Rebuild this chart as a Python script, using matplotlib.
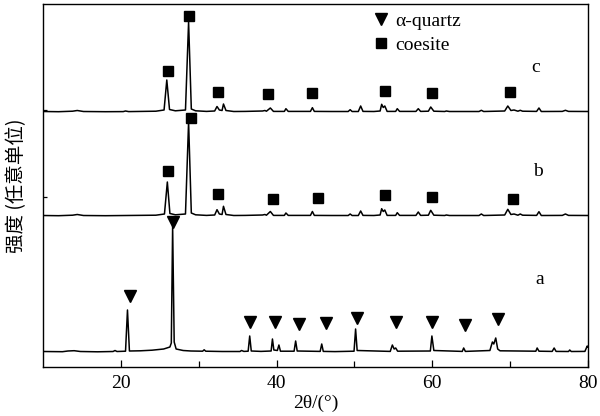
import matplotlib
matplotlib.use("Agg")
import matplotlib.pyplot as plt
import numpy as np

# XRD traces: 2theta (deg) and intensity above each baseline (a.u.)
a_2theta = [10, 12.5, 13.2, 14.0, 14.8, 17.0, 19.0, 19.25, 19.5, 20.6, 20.85, 21.1, 22.5, 24.0, 25.5,
            26.3, 26.48, 26.65, 26.85, 27.1, 28.0, 29.0, 30.5, 30.7, 30.9, 33.0, 35.3, 35.5, 35.8,
            36.35, 36.55, 36.75, 38.0, 39.3, 39.47, 39.65, 40.1, 40.3, 40.5, 42.25, 42.45, 42.65,
            45.6, 45.8, 46.0, 47.5, 49.95, 50.15, 50.35, 54.6, 54.87, 55.1, 55.3, 55.55,
            59.75, 59.95, 60.2, 63.85, 64.03, 64.25, 67.4, 67.72, 67.9, 68.15, 68.4, 68.7,
            73.3, 73.47, 73.7, 75.4, 75.65, 75.9, 77.5, 77.65, 77.85, 79.6, 79.9, 80.0]
a_int = [0.5, 0.3, 1.0, 1.3, 0.5, 0.2, 0.5, 1.5, 0.5, 0.8, 42, 1.0, 1.2, 1.8, 3.0,
         5.0, 9.0, 126, 10, 3.0, 1.5, 1.0, 0.8, 2.2, 0.8, 0.5, 0.5, 1.5, 0.6,
         0.8, 16, 1.0, 0.6, 1.0, 13, 2.0, 1.5, 7.0, 0.8, 0.8, 11, 1.0,
         0.6, 8.0, 0.6, 0.4, 0.8, 23, 1.5, 0.6, 7.0, 3.0, 4.0, 0.8,
         1.0, 16, 1.5, 0.6, 4.0, 0.6, 1.5, 10, 8.0, 14, 3.0, 1.2,
         0.8, 4.0, 0.8, 0.6, 4.0, 0.6, 0.5, 2.0, 0.5, 0.6, 6.0, 5.0]

b_2theta = [10, 12.0, 13.8, 14.4, 15.2, 18.0, 24.5, 25.6, 25.97, 26.3, 27.0, 28.3, 28.7, 29.05,
            29.6, 31.0, 32.05, 32.35, 32.65, 33.0, 33.18, 33.5, 34.5, 36.0, 38.2, 38.5, 38.7,
            39.2, 39.6, 41.0, 41.2, 41.5, 44.35, 44.6, 44.85, 47.0, 49.2, 49.45, 49.7, 50.5,
            50.8, 51.1, 52.5, 53.3, 53.5, 53.7, 53.9, 54.2, 55.3, 55.5, 55.8, 57.9, 58.2, 58.5,
            59.5, 59.8, 60.2, 61.6, 61.8, 62.2, 66.0, 66.3, 66.6, 69.3, 69.7, 70.1, 70.5, 71.0,
            71.3, 71.6, 73.4, 73.7, 74.0, 76.7, 77.1, 77.5, 80.0]
b_int = [0.5, 0.3, 0.8, 1.5, 0.5, 0.3, 0.8, 2.0, 34, 2.5, 1.2, 2.0, 94, 3.0,
         1.2, 0.6, 1.0, 6.3, 2.0, 1.5, 9.7, 1.5, 0.5, 0.6, 1.0, 1.5, 0.8,
         4.5, 0.6, 0.6, 3.0, 0.6, 0.6, 4.5, 0.6, 0.5, 0.5, 2.0, 0.5, 0.5,
         5.0, 0.6, 0.5, 1.0, 7.3, 4.5, 6.0, 0.6, 0.6, 3.3, 0.6, 0.6, 4.0, 0.6,
         0.8, 5.7, 0.8, 0.5, 1.0, 0.5, 0.5, 2.0, 0.5, 1.0, 6.7, 1.5, 2.0, 0.8,
         2.0, 0.8, 0.6, 4.3, 0.5, 0.6, 2.0, 0.6, 0.5]

c_2theta = [10, 12.0, 13.8, 14.4, 15.2, 18.0, 20.3, 20.6, 21.0, 24.5, 25.55, 25.9, 26.25, 27.0,
            28.3, 28.7, 29.05, 29.6, 31.0, 32.05, 32.35, 32.65, 33.0, 33.18, 33.5, 34.5, 36.0,
            38.2, 38.5, 38.7, 39.2, 39.6, 41.0, 41.2, 41.5, 44.35, 44.6, 44.85, 47.0, 49.2,
            49.45, 49.7, 50.5, 50.8, 51.1, 52.5, 53.3, 53.5, 53.7, 53.9, 54.2, 55.3, 55.5,
            55.8, 57.9, 58.2, 58.5, 59.5, 59.8, 60.2, 61.6, 61.8, 62.2, 66.0, 66.3, 66.6,
            69.3, 69.7, 70.1, 70.5, 71.0, 71.3, 71.6, 73.4, 73.7, 74.0, 76.7, 77.1, 77.5, 80.0]
c_int = [0.5, 0.3, 0.8, 1.5, 0.5, 0.3, 0.4, 1.0, 0.4, 0.8, 2.0, 32, 2.5, 1.2,
         2.0, 90, 3.0, 1.2, 0.6, 1.0, 5.5, 2.0, 1.5, 8.0, 1.5, 0.5, 0.6,
         1.0, 1.5, 0.8, 4.0, 0.6, 0.6, 3.3, 0.6, 0.6, 4.3, 0.6, 0.5, 0.5,
         2.3, 0.5, 0.5, 6.0, 0.6, 0.5, 1.0, 7.7, 4.5, 6.0, 0.6, 0.6, 3.3,
         0.6, 0.6, 3.3, 0.6, 0.8, 5.0, 0.8, 0.5, 1.0, 0.5, 0.5, 1.7, 0.5,
         1.0, 6.0, 1.5, 2.0, 0.8, 1.7, 0.8, 0.6, 4.0, 0.5, 0.6, 1.7, 0.6, 0.5]

# phase markers (2theta, height)
quartz_2theta = [21.2, 26.65, 36.6, 39.8, 42.9, 46.3, 50.3, 55.3, 60.0, 64.2, 68.5]
quartz_y = [71, 145, 45, 45, 43, 44, 49, 45, 45, 42, 48]
coesite_c_2theta = [26.1, 28.75, 32.5, 38.9, 44.5, 53.9, 59.96, 69.98]
coesite_c_y = [296, 351, 275, 273, 274, 276, 274, 275]
coesite_b_2theta = [26.1, 29.0, 32.5, 39.5, 45.3, 53.9, 60.0, 70.4]
coesite_b_y = [196, 249, 173, 168, 169, 172, 170, 168]

offsets = {"a": 15, "b": 151, "c": 255}

serif = "Liberation Serif"

fig = plt.figure(figsize=(6, 4.16), dpi=100)
ax = fig.add_axes([43 / 600, 49 / 416, 545 / 600, 363 / 416])

ax.plot(a_2theta, np.array(a_int) + offsets["a"], color="black", lw=1.1)
ax.plot(b_2theta, np.array(b_int) + offsets["b"], color="black", lw=1.1)
ax.plot(c_2theta, np.array(c_int) + offsets["c"], color="black", lw=1.1)

ax.plot(quartz_2theta, quartz_y, "v", color="black", ms=8.5, ls="none", label="α-quartz")
ax.plot(coesite_c_2theta, coesite_c_y, "s", color="black", ms=6.5, ls="none", label="coesite")
ax.plot(coesite_b_2theta, coesite_b_y, "s", color="black", ms=6.5, ls="none")

ax.text(73.3, 300, "c", fontsize=14, family=serif, ha="center", va="center")
ax.text(73.6, 195, "b", fontsize=14, family=serif, ha="center", va="center")
ax.text(73.8, 88, "a", fontsize=14, family=serif, ha="center", va="center")

ax.legend(loc="upper left", bbox_to_anchor=(0.585, 1.01), frameon=False,
          handlelength=0.8, handletextpad=0.3, labelspacing=0.35, borderaxespad=0.2,
          prop={"family": serif, "size": 14})

ax.set_xlim(10, 80)
ax.set_ylim(0, 363)
ax.set_xticks([20, 40, 60, 80])
ax.set_xticks([30, 50, 70], minor=True)
ax.set_yticks([170, 257])
ax.set_yticklabels([])
ax.tick_params(axis="x", which="major", direction="in", length=5, width=0.9, labelsize=14, pad=6)
ax.tick_params(axis="x", which="minor", direction="in", length=4, width=0.9)
ax.tick_params(axis="y", direction="in", length=3, width=0.9)
for lab in ax.get_xticklabels():
    lab.set_family(serif)
for sp in ax.spines.values():
    sp.set_linewidth(1.0)

ax.set_xlabel("2θ/(°)", fontsize=14, family=serif, labelpad=2)
ax.set_ylabel("强度 (任意单位)", fontsize=14, family=["Noto Sans CJK SC", "DejaVu Sans"], labelpad=8)

plt.savefig("out.png", dpi=100)
